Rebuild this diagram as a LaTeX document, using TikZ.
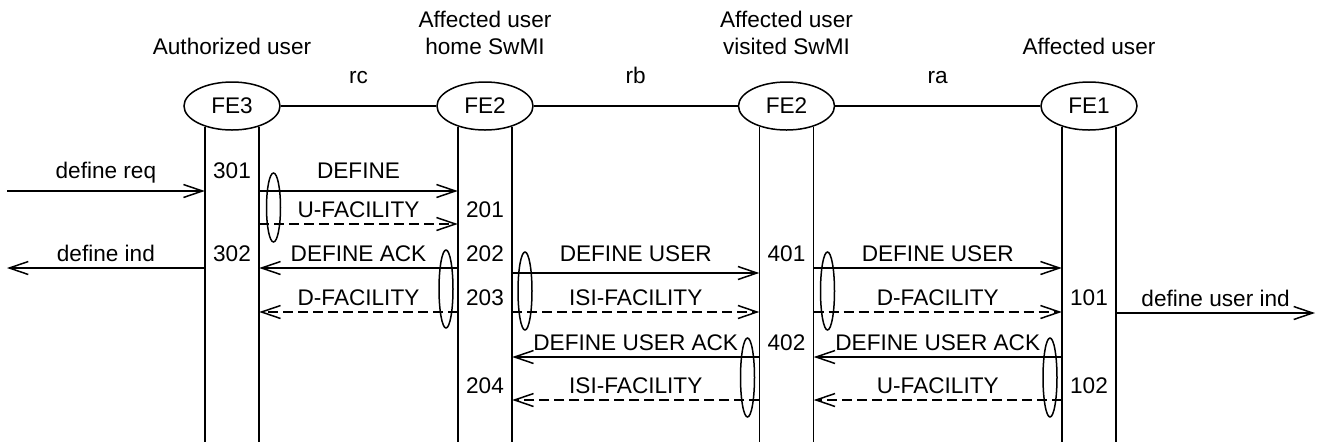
\documentclass[tikz,border=0pt]{standalone}
\usepackage{fontspec}
\setmainfont{Liberation Sans}
\usetikzlibrary{arrows.meta,positioning,shapes.geometric}

\begin{document}
\begin{tikzpicture}[x=0.5pt,y=-0.5pt,line width=0.75pt,
	font=\fontsize{11.3}{13.5}\selectfont,
	fe/.style={ellipse,draw,inner sep=0pt,minimum width=48pt,minimum height=24pt},
	head/.style={align=center,inner sep=0pt},
	msg/.style={-{Straight Barb[length=9.5pt,width=6.5pt]}},
	fac/.style={msg,dash pattern=on 5pt off 2.5pt},
	lbl/.style={midway,anchor=base,inner sep=0pt,yshift=#1},
	lbl/.default=3.5pt,
	num/.style={anchor=base,inner sep=0pt},
	grp/.style={ellipse,draw,inner sep=0pt,minimum width=7pt}]
	\useasboundingbox (0,0) rectangle (1324,446);
	% entities
	\node[fe] (FE3)  at (232,106)   {FE3};
	\node[fe] (FE2h) at (485,106)   {FE2};
	\node[fe] (FE2v) at (786.5,106) {FE2};
	\node[fe] (FE1)  at (1089,106)  {FE1};
	\node[head,above=13pt of FE3]  (t3)  {Authorized user};
	\node[head,above=13pt of FE2h] (t2h) {Affected user\\home SwMI};
	\node[head,above=13pt of FE2v] (t2v) {Affected user\\visited SwMI};
	\node[head,above=13pt of FE1]  (t1)  {Affected user};
	\draw (FE3)  -- node[lbl=11.5pt] {rc} (FE2h);
	\draw (FE2h) -- node[lbl=11.5pt] {rb} (FE2v);
	\draw (FE2v) -- node[lbl=11.5pt] {ra} (FE1);
	% lifelines
	\coordinate (bot) at (0,442);
	\coordinate (envL) at (7,0);
	\coordinate (envR) at (1315,0);
	\foreach \n in {FE3,FE2h,FE2v,FE1}{
		\coordinate (\n L) at (\n.-143);
		\coordinate (\n R) at (\n.-37);
		\draw (\n L) -- (\n L |- bot) (\n R) -- (\n R |- bot);
	}
	% rows of arrows and of text baselines
	\coordinate (r1) at (0,191);
	\coordinate (r2) at (0,224);
	\coordinate (r3) at (0,268);
	\coordinate (r4) at (0,273);
	\coordinate (r5) at (0,312);
	\coordinate (r6) at (0,313);
	\coordinate (r7) at (0,357);
	\coordinate (r8) at (0,400);
	\coordinate (b1) at (0,178);
	\coordinate (b2) at (0,217);
	\coordinate (b3) at (0,261);
	\coordinate (b4) at (0,305);
	\coordinate (b5) at (0,350);
	\coordinate (b6) at (0,393);
	% messages
	\draw[msg] (envL |- r1)  -- node[lbl=6.5pt] {define req}      (FE3L |- r1);
	\draw[msg] (FE3R |- r1)  -- node[lbl=6.5pt] {DEFINE}          (FE2hL |- r1);
	\draw[fac] (FE3R |- r2)  -- node[lbl]       {U-FACILITY}      (FE2hL |- r2);
	\draw[msg] (FE3L |- r3)  -- node[lbl]       {define ind}      (envL |- r3);
	\draw[msg] (FE2hL |- r3) -- node[lbl]       {DEFINE ACK}      (FE3R |- r3);
	\draw[fac] (FE2hL |- r5) -- node[lbl]       {D-FACILITY}      (FE3R |- r5);
	\draw[msg] (FE2hR |- r4) -- node[lbl=5.75pt]{DEFINE USER}     (FE2vL |- r4);
	\draw[fac] (FE2hR |- r5) -- node[lbl]       {ISI-FACILITY}    (FE2vL |- r5);
	\draw[msg] (FE2vL |- r7) -- node[lbl]       {DEFINE USER ACK} (FE2hR |- r7);
	\draw[fac] (FE2vL |- r8) -- node[lbl]       {ISI-FACILITY}    (FE2hR |- r8);
	\draw[msg] (FE2vR |- r3) -- node[lbl]       {DEFINE USER}     (FE1L |- r3);
	\draw[fac] (FE2vR |- r5) -- node[lbl]       {D-FACILITY}      (FE1L |- r5);
	\draw[msg] (FE1R |- r6)  -- node[lbl]       {define user ind} (envR |- r6);
	\draw[msg] (FE1L |- r7)  -- node[lbl]       {DEFINE USER ACK} (FE2vR |- r7);
	\draw[fac] (FE1L |- r8)  -- node[lbl]       {U-FACILITY}      (FE2vR |- r8);
	% numbers
	\node[num] (n301) at (FE3 |- b1)  {301};
	\node[num] (n302) at (FE3 |- b3)  {302};
	\node[num] (n201) at (FE2h |- b2) {201};
	\node[num] (n202) at (FE2h |- b3) {202};
	\node[num] (n203) at (FE2h |- b4) {203};
	\node[num] (n204) at (FE2h |- b6) {204};
	\node[num] (n401) at (FE2v |- b3) {401};
	\node[num] (n402) at (FE2v |- b5) {402};
	\node[num] (n101) at (FE1 |- b4)  {101};
	\node[num] (n102) at (FE1 |- b6)  {102};
	% groupings
	\node[grp,minimum height=34.5pt] (g1) at (273.5,207.5) {};
	\node[grp,minimum height=39pt]   (g2) at (446,289)     {};
	\node[grp,minimum height=39pt]   (g3) at (525,291)     {};
	\node[grp,minimum height=39pt]   (g4) at (827.5,291)   {};
	\node[grp,minimum height=39.5pt] (g5) at (747.5,377.5) {};
	\node[grp,minimum height=39.5pt] (g6) at (1050,377.5)  {};
\end{tikzpicture}
\end{document}
